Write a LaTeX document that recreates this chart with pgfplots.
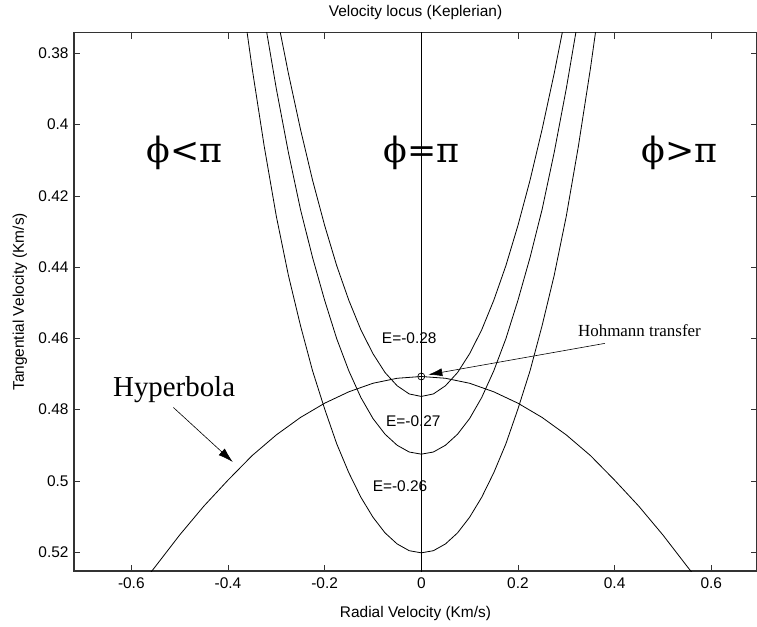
\documentclass[border=0pt]{standalone}
\usepackage{pgfplots}
\pgfplotsset{compat=1.18}
\usepackage{fontspec}
\setmainfont{Liberation Sans}
\newfontfamily\tnr{Liberation Serif}
\newfontfamily\dvs{DejaVu Serif}
\usetikzlibrary{arrows.meta}
\begin{document}
\begin{tikzpicture}
\begin{axis}[
  scale only axis, width=683bp, height=538.3bp,
  xmin=-0.7186, xmax=0.6946, ymin=0.3742, ymax=0.5253, y dir=reverse,
  axis line style={black!80, line width=1.1bp},
  tick style={black!80, line width=0.7bp}, major tick length=6bp, tick align=inside,
  xtick={-0.6,-0.4,-0.2,0,0.2,0.4,0.6},
  xticklabels={-0.6,-0.4,-0.2,0,0.2,0.4,0.6},
  ytick={0.38,0.40,0.42,0.44,0.46,0.48,0.50,0.52},
  yticklabels={0.38,0.4,0.42,0.44,0.46,0.48,0.5,0.52},
  ticklabel style={font=\fontsize{15.5}{18}\selectfont},
  xticklabel style={anchor=base, yshift=-17bp},
  yticklabel style={anchor=east, xshift=-2bp},
  title={Velocity locus (Keplerian)},
  title style={at={(axis description cs:0.5,1.027)}, anchor=center, font=\fontsize{15.5}{18}\selectfont},
  xlabel={Radial Velocity (Km/s)},
  xlabel style={at={(axis description cs:0.5,-0.0790)}, anchor=center, font=\fontsize{15.5}{18}\selectfont},
  ylabel={Tangential Velocity (Km/s)},
  ylabel style={at={(axis description cs:-0.0791,0.5)}, anchor=center, font=\fontsize{15.5}{18}\selectfont},
  cycle list={{black, no markers, line width=0.8bp}},
]
% vertical line phi = pi
\addplot[black, no markers, line width=0.8bp] coordinates {(0,0.37) (0,0.53)};
% E = -0.28
\addplot[black, no markers, line width=0.8bp] coordinates {
(-0.295,0.3719) (-0.275,0.3856) (-0.25,0.4013) (-0.225,0.4156) (-0.2,0.4283) (-0.175,0.4396)
(-0.15,0.4493) (-0.125,0.4576) (-0.1,0.4643) (-0.075,0.4696) (-0.05,0.4733) (-0.025,0.4756)
(0,0.4763) (0.025,0.4756) (0.05,0.4733) (0.075,0.4696) (0.1,0.4643) (0.125,0.4576)
(0.15,0.4493) (0.175,0.4396) (0.2,0.4283) (0.225,0.4156) (0.25,0.4013) (0.275,0.3856) (0.295,0.3719)};
% E = -0.27
\addplot[black, no markers, line width=0.8bp] coordinates {
(-0.325,0.3700) (-0.3,0.3899) (-0.275,0.4078) (-0.25,0.4238) (-0.225,0.4373) (-0.2,0.4493)
(-0.175,0.4601) (-0.15,0.4691) (-0.125,0.4766) (-0.1,0.4825) (-0.075,0.4869) (-0.05,0.4900)
(-0.025,0.4919) (0,0.4925) (0.025,0.4919) (0.05,0.4900) (0.075,0.4869) (0.1,0.4825)
(0.125,0.4766) (0.15,0.4691) (0.175,0.4601) (0.2,0.4493) (0.225,0.4373) (0.25,0.4238)
(0.275,0.4078) (0.3,0.3899) (0.325,0.3700)};
% E = -0.26
\addplot[black, no markers, line width=0.8bp] coordinates {
(-0.365,0.3697) (-0.35,0.3842) (-0.325,0.4061) (-0.3,0.4257) (-0.275,0.4423) (-0.25,0.4564)
(-0.225,0.4691) (-0.2,0.4798) (-0.175,0.4896) (-0.15,0.4977) (-0.125,0.5046) (-0.1,0.5102)
(-0.075,0.5146) (-0.05,0.5177) (-0.025,0.5196) (0,0.5202) (0.025,0.5196) (0.05,0.5177)
(0.075,0.5146) (0.1,0.5102) (0.125,0.5046) (0.15,0.4977) (0.175,0.4896) (0.2,0.4798)
(0.225,0.4691) (0.25,0.4564) (0.275,0.4423) (0.3,0.4257) (0.325,0.4061) (0.35,0.3842) (0.365,0.3697)};
% Hyperbola
\addplot[black, no markers, line width=0.8bp] coordinates {
(-0.575,0.5283) (-0.55,0.5240) (-0.5,0.5152) (-0.45,0.5071) (-0.4,0.4998) (-0.35,0.4929)
(-0.3,0.4871) (-0.25,0.4822) (-0.2,0.4782) (-0.15,0.4750) (-0.1,0.4726) (-0.05,0.4712)
(0,0.4707) (0.05,0.4712) (0.1,0.4726) (0.15,0.4750) (0.2,0.4782) (0.25,0.4822)
(0.3,0.4871) (0.35,0.4929) (0.4,0.4998) (0.45,0.5071) (0.5,0.5152) (0.55,0.5240) (0.575,0.5283)};
% Hohmann point
\addplot[black, only marks, mark=o, mark size=3.5bp, mark options={line width=0.7bp}] coordinates {(0,0.4707)};
% annotations
\draw[black, line width=0.6bp, -{Latex[length=15bp,width=9bp]}] (axis cs:-0.513,0.4794) -- (axis cs:-0.390,0.4947);
\draw[black, line width=0.6bp, -{Latex[length=14bp,width=8bp]}] (axis cs:0.38,0.4614) -- (axis cs:0.0145,0.4702);
\node[anchor=base west, inner sep=0] at (axis cs:-0.638,0.4762) {\tnr\fontsize{29}{32}\selectfont Hyperbola};
\node[anchor=base west, inner sep=0] at (axis cs:0.324,0.4595) {\tnr\fontsize{17}{20}\selectfont Hohmann transfer};
\node[inner sep=0] at (axis cs:-0.025,0.4600) {\fontsize{15.5}{18}\selectfont E=-0.28};
\node[inner sep=0] at (axis cs:-0.0165,0.4832) {\fontsize{15.5}{18}\selectfont E=-0.27};
\node[inner sep=0] at (axis cs:-0.044,0.5014) {\fontsize{15.5}{18}\selectfont E=-0.26};
\node[inner sep=0] at (axis cs:-0.49,0.408) {\dvs\fontsize{35}{38}\selectfont ϕ<π};
\node[inner sep=0] at (axis cs:0,0.408) {\dvs\fontsize{35}{38}\selectfont ϕ=π};
\node[inner sep=0] at (axis cs:0.535,0.408) {\dvs\fontsize{35}{38}\selectfont ϕ>π};
\end{axis}
\pgfresetboundingbox
\path[use as bounding box] (-74bp,-56bp) rectangle (683bp,571bp);
\end{tikzpicture}
\end{document}
